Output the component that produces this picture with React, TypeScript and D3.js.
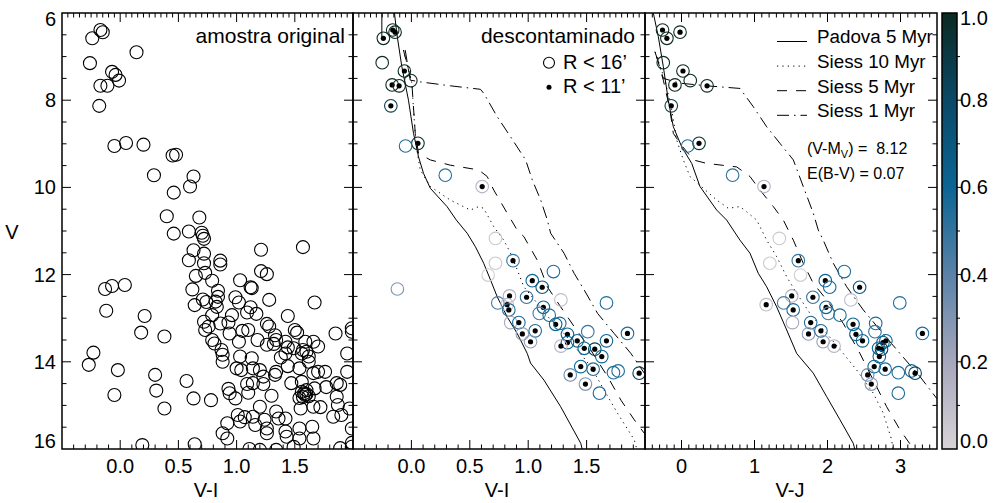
import React from 'react';
import * as d3 from 'd3';

const W = 996, H = 503;
const TOP = 13, BOT = 449;
const FONT = "'Liberation Sans', Arial, Helvetica, sans-serif";

// ---- panel 1: full sample [V-I, V]
const fieldStars: number[][] = [
  [-0.17,6.39],[-0.15,6.44],[-0.24,6.58],[0.14,6.90],[-0.26,7.15],[-0.07,7.35],[-0.04,7.42],[-0.01,7.55],[-0.17,7.67],[-0.11,7.67],[-0.18,8.13],[-0.05,9.05],[0.05,8.98],[0.20,9.02],[0.45,9.27],[0.48,9.25],[0.29,9.72],[0.63,9.75],[0.60,9.98],[0.46,10.12],[0.40,10.66],[0.68,10.69],
  [0.46,11.06],[0.59,11.01],[0.70,11.04],[0.71,11.11],[0.72,11.18],[1.21,11.43],[1.57,11.37],[0.63,11.44],[0.72,11.52],[0.59,11.67],[0.72,11.74],[0.86,11.68],[0.86,11.77],[1.21,11.92],[1.26,11.99],[0.65,12.03],[0.73,11.96],[0.79,12.14],[1.03,12.13],[1.12,12.29],[1.13,12.31],[0.62,12.34],[0.84,12.37],[0.84,12.51],[0.82,12.62],[0.71,12.57],[0.74,12.63],[0.99,12.52],[1.02,12.64],[1.28,12.58],[1.67,12.64],[0.64,12.70],[0.83,12.74],[1.12,12.75],[1.09,12.87],[1.17,12.90],[0.96,12.93],[1.44,12.95],[0.79,12.93],
  [-0.13,12.33],[-0.07,12.26],[0.04,12.24],[-0.12,12.83],[0.21,12.95],[0.18,13.33],[0.38,13.42],[-0.23,13.79],[-0.27,14.07],[-0.02,14.19],[0.30,14.30],[-0.05,14.76],[0.31,14.66],[0.38,15.07],[0.57,14.44],[0.63,14.84],[0.78,14.88],[0.19,15.91],[0.64,15.89],
  [0.72,13.08],[0.76,13.19],[0.86,13.12],[0.93,13.10],[1.26,13.13],[1.28,13.19],[1.50,13.27],[1.52,13.33],[1.85,13.35],[1.99,13.31],[0.73,13.27],[0.79,13.50],[0.81,13.58],[0.87,13.73],[0.88,13.84],[0.88,14.00],[0.94,13.35],[1.02,13.54],[1.05,13.29],[1.10,13.27],[1.18,13.50],[1.26,13.61],[1.33,13.39],[1.32,13.59],[1.34,13.50],[1.42,13.54],[1.44,13.67],[1.42,13.81],[1.49,13.69],[1.59,13.54],[1.60,13.77],[1.66,13.54],[1.70,13.65],[1.56,13.81],[1.62,13.88],[1.62,14.00],[1.95,13.81],[1.03,13.88],[1.13,13.92],[1.00,14.15],[1.04,14.19],[1.20,14.19],[1.23,14.34],[1.34,14.23],[1.33,14.30],[1.44,14.10],[1.54,14.15],[1.66,14.26],[1.70,14.23],[1.76,14.23],[1.95,14.23],[1.86,14.49],[1.89,14.53],
  [0.93,14.62],[0.94,14.72],[0.99,14.84],[1.10,14.71],[1.14,14.49],[1.23,14.51],[1.30,14.78],[1.47,14.49],[1.56,14.46],[1.56,14.69],[1.59,14.76],[1.57,14.81],[1.60,14.74],[1.54,14.83],[1.58,14.72],[1.62,14.79],[1.60,14.65],[1.67,14.61],[1.66,15.03],[1.72,15.04],[1.55,15.07],[1.20,15.03],[1.86,14.80],[1.87,14.99],[1.83,15.26],[1.90,15.22],[1.97,15.07],[1.01,15.22],[1.03,15.37],[0.92,15.41],[1.07,15.27],[1.14,15.26],[1.16,15.45],[1.24,15.33],[1.26,15.53],[1.34,15.14],[1.36,15.30],[1.42,15.30],[1.26,15.64],[1.42,15.60],[1.43,15.72],[1.54,15.53],[1.54,15.76],[1.65,15.49],[1.66,15.76],[0.88,15.64],[0.92,15.76],[1.99,15.53],[1.11,16.0],[1.20,16.02],[1.34,16.02],[1.49,15.95],[1.89,15.98],[1.99,15.86],[1.57,13.73],[1.99,15.95],[1.14,14.15],[1.09,14.51],[1.38,13.90],[1.77,14.58],[1.99,13.23]
];

// ---- panels 2 & 3: decontaminated members
const memberV =     [6.39,6.44,6.58,7.14,7.33,7.55,7.65,7.67,8.13,8.99,9.05,9.72,9.98,11.17,11.68,11.74,11.93,12.01,12.14,12.29,12.33,12.29,12.49,12.52,12.58,12.65,12.65,12.69,12.81,12.75,12.89,12.93,13.10,13.10,13.14,13.12,13.36,13.29,13.37,13.31,13.35,13.54,13.52,13.56,13.52,13.64,13.69,13.71,13.88,14.11,14.17,14.25,14.21,14.26,14.30,14.51,14.72];
const memberVI =    [-0.16,-0.14,-0.24,-0.25,-0.06,-0.005,-0.165,-0.105,-0.176,0.056,-0.05,0.29,0.606,0.72,0.87,0.72,1.216,0.657,1.035,1.12,-0.12,NaN,0.84,0.986,1.28,0.74,1.67,0.82,0.834,1.13,1.095,1.18,0.85,0.92,1.235,1.27,0.95,1.06,1.336,1.51,1.85,1.02,1.42,1.336,1.67,1.28,1.48,1.57,1.63,1.45,1.556,1.73,1.77,1.95,1.36,1.49,1.61];
const memberVJ =    [-0.26,-0.02,-0.20,-0.25,0.02,0.12,-0.09,0.35,-0.14,0.24,0.085,0.70,1.13,1.34,1.60,1.21,2.23,1.63,1.97,2.44,NaN,2.03,1.51,1.80,2.32,1.40,2.99,1.16,1.53,1.98,2.01,2.17,1.52,1.77,2.35,2.66,1.74,1.91,2.39,2.65,3.30,1.94,2.48,2.76,2.80,2.09,2.70,2.74,2.71,2.64,2.79,2.97,3.15,3.20,2.55,2.60,2.97];
const memberProb =  [1,1,1,1,1,1,1,1,0.88,0.95,0.55,0.52,0.15,0.05,0.5,0.05,0.55,0.03,0.6,0.7,0.3,0.55,0.15,0.5,0.1,0.45,0.55,0.1,0.55,0.6,0.45,0.55,0.2,0.55,0.6,0.55,0.25,0.55,0.6,0.5,0.55,0.25,0.6,0.65,0.6,0.15,0.6,0.85,0.6,0.6,0.55,0.55,0.55,0.85,0.35,0.3,0.55];
const memberInner = [1,1,1,0,1,0,1,1,1,1,0,0,1,0,1,0,0,0,1,1,0,0,1,1,0,0,0,1,1,1,0,0,0,1,1,0,1,1,1,0,1,1,1,1,1,1,1,1,1,1,1,0,0,1,1,1,0];

// ---- isochrones [colour, V]
const padova5VI = [[-0.253,6.55],[-0.253,5.7],[-0.145,5.7],[-0.145,6.0],[-0.125,6.47],[-0.082,7.23],[-0.025,8.0],[0.018,8.76],[0.061,9.30],[0.104,9.68],[0.162,10.02],[0.305,10.44],[0.385,10.75],[0.477,11.05],[0.548,11.36],[0.619,11.74],[0.677,12.12],[0.735,12.51],[0.82,12.97],[0.906,13.35],[0.992,13.81],[1.02,14.03],[1.135,14.42],[1.278,15.03],[1.45,15.87],[1.49,16.3]];
const siess10VI = [[-0.068,6.85],[0.004,7.61],[0.018,8.22],[0.033,8.76],[0.047,9.14],[0.076,9.60],[0.162,9.98],[0.333,10.29],[0.505,10.52],[0.576,10.44],[0.619,10.48],[0.705,10.90],[0.791,11.21],[0.849,11.51],[0.906,11.89],[0.963,12.28],[1.078,12.66],[1.192,13.04],[1.307,13.35],[1.422,13.73],[1.536,14.11],[1.65,14.65],[1.765,15.18],[1.908,15.79],[1.96,16.3]];
const siess5VI = [[-0.068,6.85],[0.004,7.61],[0.033,8.76],[0.061,9.22],[0.162,9.37],[0.333,9.49],[0.576,9.60],[0.649,9.75],[0.705,10.06],[0.82,10.59],[0.906,10.98],[0.963,11.13],[1.078,11.67],[1.164,12.28],[1.278,12.74],[1.393,13.19],[1.536,13.73],[1.68,14.34],[1.794,14.88],[1.908,15.33],[1.994,15.64],[2.1,16.0]];
const siess1VI = [[-0.053,6.85],[-0.01,7.54],[0.076,7.58],[0.333,7.67],[0.591,7.75],[0.619,7.84],[0.735,8.38],[0.849,8.84],[0.978,9.37],[1.035,9.83],[1.107,10.29],[1.164,10.75],[1.192,11.05],[1.307,11.51],[1.393,11.97],[1.479,12.35],[1.594,12.89],[1.736,13.35],[1.88,13.81],[1.994,14.26],[2.1,14.6]];
const padova5VJ = [[-0.40,5.7],[-0.386,6.0],[-0.318,6.54],[-0.249,7.23],[-0.181,8.0],[-0.112,8.61],[0.003,9.07],[0.14,9.45],[0.253,9.98],[0.482,10.52],[0.619,10.75],[0.801,11.21],[0.938,11.51],[1.052,11.97],[1.167,12.28],[1.304,12.74],[1.441,13.27],[1.578,13.81],[1.805,14.26],[1.989,14.80],[2.171,15.33],[2.353,15.87],[2.42,16.3]];
const siess10VJ = [[-0.363,6.89],[-0.226,7.54],[-0.134,8.22],[-0.066,8.91],[0.025,9.37],[0.116,9.75],[0.482,10.29],[0.641,10.48],[0.801,10.44],[0.893,10.56],[1.03,10.75],[1.167,11.21],[1.304,11.59],[1.441,12.05],[1.578,12.43],[1.76,12.89],[1.989,13.35],[2.216,13.81],[2.40,14.19],[2.627,14.72],[2.764,15.18],[2.879,15.79],[2.92,16.3]];
const siess5VJ = [[-0.34,7.0],[-0.249,7.54],[-0.158,8.22],[-0.112,8.76],[-0.02,8.99],[0.162,9.37],[0.345,9.45],[0.756,9.53],[0.938,9.75],[1.075,10.06],[1.258,10.44],[1.395,10.75],[1.532,11.21],[1.668,11.74],[1.805,12.20],[1.989,12.58],[2.216,13.12],[2.445,13.81],[2.627,14.42],[2.81,15.03],[2.993,15.56],[3.175,15.99],[3.25,16.3]];
const siess1VJ = [[-0.363,6.89],[-0.249,7.50],[-0.02,7.61],[0.345,7.67],[0.801,7.73],[0.984,8.15],[1.167,8.61],[1.349,8.99],[1.532,9.37],[1.668,9.98],[1.805,10.59],[1.874,10.98],[1.942,11.21],[2.079,11.74],[2.263,12.28],[2.49,12.81],[2.719,13.27],[2.993,13.81],[3.267,14.34],[3.496,14.84],[3.6,15.1]];

// ---- legend & colour bar
const legendNames = ['Padova 5 Myr', 'Siess 10 Myr', 'Siess 5 Myr', 'Siess 1 Myr'];
const legendDash = ['none', '1.2,4.2', '10,9', '12,5,1.5,5'];
const cbStops = [0, 0.2, 0.4, 0.6, 0.8, 1];
const cbColors = ['#d8d3d6', '#a6a7bc', '#5b82a8', '#0b6594', '#0a4967', '#0b2a22'];
const cbTicks = [0, 0.2, 0.4, 0.6, 0.8, 1.0];
const yTickVals = [6, 8, 10, 12, 14, 16];
const viTickVals = [0, 0.5, 1.0, 1.5];
const vjTickVals = [0, 1, 2, 3];

const yS = d3.scaleLinear().domain([6, 16]).range([TOP, BOT]);
const x1S = d3.scaleLinear().domain([-0.5, 2]).range([62, 353]);
const x2S = d3.scaleLinear().domain([-0.5, 2]).range([353, 645]);
const x3S = d3.scaleLinear().domain([-0.5, 3.5]).range([645, 937]);
const cmap = d3.scaleLinear<string>().domain(cbStops).range(cbColors).interpolate(d3.interpolateRgb).clamp(true);
const cbY = d3.scaleLinear().domain([0, 1]).range([BOT, TOP]);

function near(a: number, b: number) { return Math.abs(a - b) < 1e-6; }

function Ticks({ xs, botStep, topStep, majorStep }: any) {
  const [d0, d1] = xs.domain();
  const [r0, r1] = xs.range();
  const els: any[] = [];
  const isMajor = (v: number) => near(v / majorStep, Math.round(v / majorStep));
  const botVals = d3.range(0, Math.round((d1 - d0) / botStep) + 1).map(i => d0 + i * botStep);
  const topVals = d3.range(0, Math.round((d1 - d0) / topStep) + 1).map(i => d0 + i * topStep);
  botVals.forEach((v, i) => {
    if (near(v, d0) || near(v, d1)) return;
    const L = isMajor(v) ? 9 : 4.5;
    els.push(<line key={'b' + i} x1={xs(v)} x2={xs(v)} y1={BOT} y2={BOT - L} stroke="#000" strokeWidth={1} />);
  });
  topVals.forEach((v, i) => {
    if (near(v, d0) || near(v, d1)) return;
    const L = isMajor(v) ? 9 : 4.5;
    els.push(<line key={'t' + i} x1={xs(v)} x2={xs(v)} y1={TOP} y2={TOP + L} stroke="#000" strokeWidth={1} />);
  });
  d3.range(6.5, 16, 0.5).forEach((v, i) => {
    const L = near(v % 2, 0) ? 9 : 4.5;
    els.push(<line key={'l' + i} x1={r0} x2={r0 + L} y1={yS(v)} y2={yS(v)} stroke="#000" strokeWidth={1} />);
    els.push(<line key={'r' + i} x1={r1} x2={r1 - L} y1={yS(v)} y2={yS(v)} stroke="#000" strokeWidth={1} />);
  });
  return <g>{els}</g>;
}

function Iso({ data, xs, dash, clip }: any) {
  const line = d3.line<number[]>().x(d => xs(d[0])).y(d => yS(d[1]));
  return <path d={line(data) || ''} fill="none" stroke="#000" strokeWidth={1} strokeDasharray={dash === 'none' ? undefined : dash} clipPath={`url(#${clip})`} />;
}

function Members({ xs, colors, clip }: any) {
  return (
    <g clipPath={`url(#${clip})`}>
      {memberV.map((v, i) => isNaN(colors[i]) ? null : (
        <g key={i}>
          <circle cx={xs(colors[i])} cy={yS(v)} r={6.3} fill="none" stroke={cmap(memberProb[i])} strokeWidth={1.1} />
          {memberInner[i] ? <circle cx={xs(colors[i])} cy={yS(v)} r={2.6} fill="#000" /> : null}
        </g>
      ))}
    </g>
  );
}

export default function App() {
  const panels = [x1S, x2S, x3S];
  const txt = { fontFamily: FONT, fill: '#000' } as any;
  return (
    <svg width={W} height={H} style={{ position: 'absolute', left: 0, top: 0, background: '#fff' }}>
      <defs>
        {panels.map((xs, i) => (
          <clipPath id={'clip' + i} key={i}>
            <rect x={xs.range()[0]} y={TOP} width={xs.range()[1] - xs.range()[0]} height={BOT - TOP} />
          </clipPath>
        ))}
        <linearGradient id="cbgrad" x1="0" y1="1" x2="0" y2="0">
          {cbStops.map((s, i) => <stop key={i} offset={s} stopColor={cbColors[i]} />)}
        </linearGradient>
      </defs>
      <rect x={0} y={0} width={W} height={H} fill="#fff" />

      {/* panel 1 */}
      <g clipPath="url(#clip0)">
        {fieldStars.map((d, i) => (
          <circle key={i} cx={x1S(d[0])} cy={yS(d[1])} r={6.5} fill="none" stroke="#000" strokeWidth={1.1} />
        ))}
      </g>

      {/* panel 2 */}
      <Iso data={padova5VI} xs={x2S} dash={legendDash[0]} clip="clip1" />
      <Iso data={siess10VI} xs={x2S} dash={legendDash[1]} clip="clip1" />
      <Iso data={siess5VI} xs={x2S} dash={legendDash[2]} clip="clip1" />
      <Iso data={siess1VI} xs={x2S} dash={legendDash[3]} clip="clip1" />
      <Members xs={x2S} colors={memberVI} clip="clip1" />

      {/* panel 3 */}
      <Iso data={padova5VJ} xs={x3S} dash={legendDash[0]} clip="clip2" />
      <Iso data={siess10VJ} xs={x3S} dash={legendDash[1]} clip="clip2" />
      <Iso data={siess5VJ} xs={x3S} dash={legendDash[2]} clip="clip2" />
      <Iso data={siess1VJ} xs={x3S} dash={legendDash[3]} clip="clip2" />
      <Members xs={x3S} colors={memberVJ} clip="clip2" />

      {/* frames and ticks */}
      {panels.map((xs, i) => (
        <rect key={'f' + i} x={xs.range()[0]} y={TOP} width={xs.range()[1] - xs.range()[0]} height={BOT - TOP} fill="none" stroke="#000" strokeWidth={1.5} />
      ))}
      <Ticks xs={x1S} botStep={0.1} topStep={0.05} majorStep={0.5} />
      <Ticks xs={x2S} botStep={0.1} topStep={0.05} majorStep={0.5} />
      <Ticks xs={x3S} botStep={0.1} topStep={0.1} majorStep={1} />

      {/* y tick labels */}
      {yTickVals.map((v, i) => (
        <text key={'yl' + i} x={56} y={v === 6 ? TOP + 13 : v === 16 ? BOT - 1 : yS(v) + 7} textAnchor="end" fontSize={20} {...txt}>{v}</text>
      ))}
      <text x={12} y={239} textAnchor="middle" fontSize={20} {...txt}>V</text>

      {/* x tick labels */}
      {viTickVals.map((v, i) => (
        <text key={'x1' + i} x={x1S(v)} y={473} textAnchor="middle" fontSize={20} {...txt}>{v.toFixed(1)}</text>
      ))}
      {viTickVals.map((v, i) => (
        <text key={'x2' + i} x={x2S(v)} y={473} textAnchor="middle" fontSize={20} {...txt}>{v.toFixed(1)}</text>
      ))}
      {vjTickVals.map((v, i) => (
        <text key={'x3' + i} x={x3S(v)} y={473} textAnchor="middle" fontSize={20} {...txt}>{v}</text>
      ))}
      <text x={206} y={497} textAnchor="middle" fontSize={20} {...txt}>V-I</text>
      <text x={497} y={497} textAnchor="middle" fontSize={20} {...txt}>V-I</text>
      <text x={790} y={497} textAnchor="middle" fontSize={20} {...txt}>V-J</text>

      {/* panel titles */}
      <text x={345} y={43} textAnchor="end" fontSize={21} {...txt}>amostra original</text>
      <text x={635} y={43} textAnchor="end" fontSize={21} {...txt}>descontaminado</text>
      <circle cx={549} cy={62.7} r={5.5} fill="none" stroke="#000" strokeWidth={1.1} />
      <text x={563} y={68.5} fontSize={20} {...txt}>R &lt; 16’</text>
      <circle cx={549} cy={87.3} r={2.5} fill="#000" />
      <text x={563} y={93} fontSize={20} {...txt}>R &lt; 11’</text>

      {/* isochrone legend */}
      {legendNames.map((n, i) => (
        <g key={'lg' + i}>
          <line x1={777} x2={807} y1={41.5 + i * 24.6} y2={41.5 + i * 24.6} stroke="#000" strokeWidth={1} strokeDasharray={legendDash[i] === 'none' ? undefined : legendDash[i]} />
          <text x={817} y={43.3 + i * 24.6} fontSize={18.8} {...txt}>{n}</text>
        </g>
      ))}
      <text x={807} y={154} fontSize={16} {...txt} style={{ whiteSpace: 'pre' }}>
        <tspan>(V-M</tspan><tspan fontSize={11} dy={4}>V</tspan><tspan dy={-4}>) =  8.12</tspan>
      </text>
      <text x={807} y={178.5} fontSize={16} {...txt}>E(B-V) = 0.07</text>

      {/* colour bar */}
      <rect x={942} y={TOP} width={15} height={BOT - TOP} fill="url(#cbgrad)" stroke="#000" strokeWidth={1.5} />
      {d3.range(1, 10).map(i => (
        <line key={'cbt' + i} x1={957} x2={i % 2 === 0 ? 962 : 960} y1={cbY(i / 10)} y2={cbY(i / 10)} stroke="#000" strokeWidth={1} />
      ))}
      {cbTicks.map((v, i) => (
        <text key={'cbl' + i} x={960} y={v === 1 ? TOP + 12 : v === 0 ? BOT - 1 : cbY(v) + 7} fontSize={20} {...txt}>{v.toFixed(1)}</text>
      ))}
    </svg>
  );
}
